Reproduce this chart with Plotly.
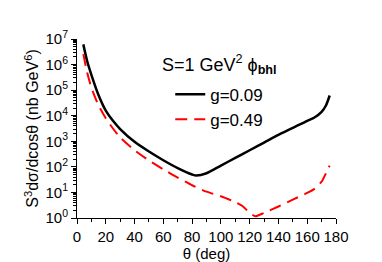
import plotly.graph_objects as go

theta_black = [4.4, 7, 10, 15, 20, 25, 30, 40, 50, 60, 70, 80, 83, 90, 100, 110, 120, 130, 140, 150, 160, 165, 170, 173, 175.6]
logy_black = [6.79, 6.15, 5.6, 4.8, 4.2, 3.8, 3.48, 2.98, 2.6, 2.26, 1.95, 1.7, 1.66, 1.75, 2.05, 2.35, 2.65, 2.95, 3.25, 3.52, 3.8, 3.93, 4.15, 4.4, 4.79]

theta_red = [4.4, 7, 10, 15, 20, 25, 30, 40, 50, 60, 70, 80, 90, 100, 110, 115, 120, 124, 130, 140, 150, 160, 165, 170, 173, 175.6]
logy_red = [6.41, 5.7, 5.1, 4.4, 3.9, 3.5, 3.15, 2.65, 2.25, 1.9, 1.58, 1.28, 1.03, 0.85, 0.62, 0.47, 0.2, 0.07, 0.2, 0.45, 0.72, 0.98, 1.14, 1.42, 1.75, 2.05]

y_ticks = [1, 10, 100, 1e3, 1e4, 1e5, 1e6, 1e7]
y_ticktext = ["10<sup>%d</sup>" % i for i in range(8)]

y_black = [10 ** v for v in logy_black]
y_red = [10 ** v for v in logy_red]

FONT = "Liberation Sans, Arial, Helvetica, sans-serif"

fig = go.Figure()
fig.add_trace(go.Scatter(x=theta_black, y=y_black, mode="lines", name="g=0.09",
                         line=dict(color="black", width=2.5, shape="spline", smoothing=0.8)))
fig.add_trace(go.Scatter(x=theta_red, y=y_red, mode="lines", name="g=0.49",
                         line=dict(color="#ff0000", width=2, dash="12px,7px", shape="spline", smoothing=0.6)))

fig.update_layout(
    width=382, height=262,
    margin=dict(l=69, r=54, t=31, b=44),
    paper_bgcolor="white", plot_bgcolor="white",
    font=dict(family=FONT, size=15, color="black"),
    showlegend=True,
    legend=dict(x=0.36, y=0.79, xanchor="left", yanchor="top",
                bgcolor="rgba(0,0,0,0)", font=dict(size=17), itemwidth=30,
                tracegroupgap=0),
    annotations=[dict(text="S=1 GeV<sup>2</sup> ϕ<sub><b>bhl</b></sub>", x=0.32, y=0.855,
                      xref="paper", yref="paper", xanchor="left", yanchor="middle",
                      showarrow=False, font=dict(size=18))],
)
fig.update_xaxes(range=[0, 180], dtick=20, showline=True, linecolor="black", linewidth=1,
                 ticks="outside", ticklen=5, tickcolor="black", showgrid=False, zeroline=False,
                 minor=dict(ticks="outside", ticklen=3, dtick=10, tickcolor="black", showgrid=False),
                 title=dict(text="θ (deg)", font=dict(size=15), standoff=2))
fig.update_yaxes(type="log", range=[0, 7], tickvals=y_ticks, ticktext=y_ticktext, showline=True,
                 linecolor="black", linewidth=1, ticks="outside", ticklen=5, tickcolor="black",
                 showgrid=False, zeroline=False,
                 minor=dict(ticks="outside", ticklen=3, dtick="D1", tickcolor="black", showgrid=False),
                 title=dict(text="S<sup>3</sup>dσ/dcosθ (nb GeV<sup>6</sup>)", font=dict(size=16), standoff=2))

fig.write_html("out.html")
